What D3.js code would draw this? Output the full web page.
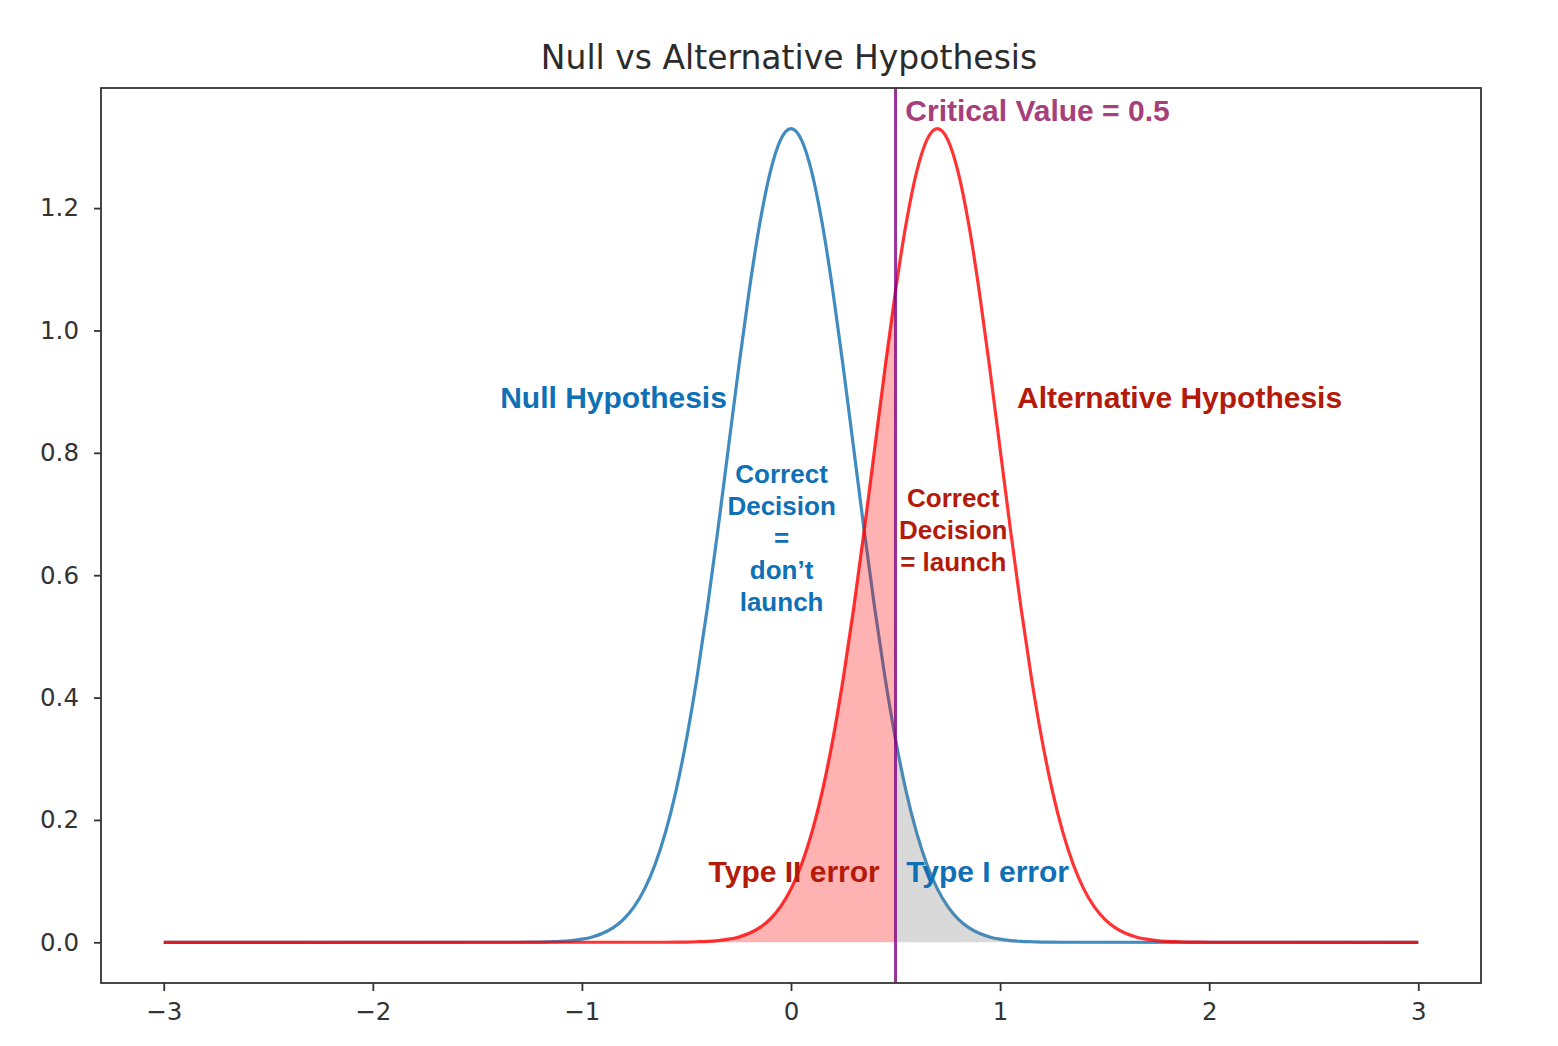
<!DOCTYPE html>
<html><head><meta charset="utf-8">
<script src="https://cdn.jsdelivr.net/npm/d3@7"></script>
<style>body{margin:0;background:#fff}</style>
</head><body>
<svg id="c" width="1558" height="1046"></svg>
<script>
// ---- data ----
const nullX = [-3.0,-1.3,-1.25,-1.2,-1.15,-1.1,-1.05,-1.0,-0.95,-0.9,-0.85,-0.8,-0.75,-0.7,-0.65,-0.6,-0.55,-0.5,-0.45,-0.4,-0.35,-0.3,-0.25,-0.2,-0.15,-0.1,-0.05,
  0.0,0.05,0.1,0.15,0.2,0.25,0.3,0.35,0.4,0.45,0.5,0.55,0.6,0.65,0.7,0.75,0.8,0.85,0.9,0.95,1.0,1.05,1.1,1.15,1.2,1.25,1.3,3.0];
const nullY = [0,0.0001,0.0002,0.0004,0.0009,0.0016,0.0029,0.0051,0.0088,0.0148,0.0240,0.0380,0.0584,0.0874,0.1272,0.1800,0.2476,0.3316,0.4318,0.5467,0.6733,0.8066,0.9397,1.0648,1.1735,1.2579,1.3115,
  1.3298,1.3115,1.2579,1.1735,1.0648,0.9397,0.8066,0.6733,0.5467,0.4318,0.3316,0.2476,0.1800,0.1272,0.0874,0.0584,0.0380,0.0240,0.0148,0.0088,0.0051,0.0029,0.0016,0.0009,0.0004,0.0002,0.0001,0];
const altX = [-3.0,-0.6,-0.55,-0.5,-0.45,-0.4,-0.35,-0.3,-0.25,-0.2,-0.15,-0.1,-0.05,0.0,0.05,0.1,0.15,0.2,0.25,0.3,0.35,0.4,0.45,0.5,0.55,0.6,0.65,
  0.7,0.75,0.8,0.85,0.9,0.95,1.0,1.05,1.1,1.15,1.2,1.25,1.3,1.35,1.4,1.45,1.5,1.55,1.6,1.65,1.7,1.75,1.8,1.85,1.9,1.95,2.0,3.0];
const altY = [0,0.0001,0.0002,0.0004,0.0009,0.0016,0.0029,0.0051,0.0088,0.0148,0.0240,0.0380,0.0584,0.0874,0.1272,0.1800,0.2476,0.3316,0.4318,0.5467,0.6733,0.8066,0.9397,1.0648,1.1735,1.2579,1.3115,
  1.3298,1.3115,1.2579,1.1735,1.0648,0.9397,0.8066,0.6733,0.5467,0.4318,0.3316,0.2476,0.1800,0.1272,0.0874,0.0584,0.0380,0.0240,0.0148,0.0088,0.0051,0.0029,0.0016,0.0009,0.0004,0.0002,0.0001,0];
const criticalValue = 0.5;
const xTicks = [-3,-2,-1,0,1,2,3];
const yTicks = [0.0,0.2,0.4,0.6,0.8,1.0,1.2];
const title = "Null vs Alternative Hypothesis";

// ---- layout ----
const svg = d3.select("#c");
const L = 101, R = 1481, T = 88, B = 983;
const x = d3.scaleLinear().domain([-3.3, 3.3]).range([L, R]);
const y = d3.scaleLinear().domain([-0.0665, 1.3963]).range([B, T]);

const nullPts = nullX.map((v,i)=>[v, nullY[i]]);
const altPts = altX.map((v,i)=>[v, altY[i]]);

const line = d3.line().x(d=>x(d[0])).y(d=>y(d[1])).curve(d3.curveMonotoneX);
const area = d3.area().x(d=>x(d[0])).y0(y(0)).y1(d=>y(d[1])).curve(d3.curveMonotoneX);

const g = svg.append("g");
g.append("path").datum(nullPts).attr("d", line)
  .attr("fill","none").attr("stroke","#1f77b4").attr("stroke-opacity",0.85).attr("stroke-width",3.2);
g.append("path").datum(altPts).attr("d", line)
  .attr("fill","none").attr("stroke","#ff0000").attr("stroke-opacity",0.8).attr("stroke-width",3.2);
// Type II error region
g.append("path").datum(altPts.filter(d=>d[0] <= criticalValue + 1e-9)).attr("d", area)
  .attr("fill","#ff0000").attr("fill-opacity",0.3);
// Type I error region
g.append("path").datum(nullPts.filter(d=>d[0] >= criticalValue - 1e-9)).attr("d", area)
  .attr("fill","#808080").attr("fill-opacity",0.3);
// critical value line
g.append("line").attr("x1",x(criticalValue)).attr("x2",x(criticalValue)).attr("y1",T).attr("y2",B)
  .attr("stroke","#800080").attr("stroke-opacity",0.8).attr("stroke-width",3);

// ---- axes ----
const axColor = "#333";
svg.append("rect").attr("x",L).attr("y",T).attr("width",R-L).attr("height",B-T)
  .attr("fill","none").attr("stroke",axColor).attr("stroke-width",1.8);

const xa = svg.append("g").attr("transform",`translate(0,${B})`)
  .call(d3.axisBottom(x).tickValues(xTicks).tickSize(8).tickPadding(12).tickFormat(d3.format("d")));
const ya = svg.append("g").attr("transform",`translate(${L},0)`)
  .call(d3.axisLeft(y).tickValues(yTicks).tickSize(7).tickPadding(15).tickFormat(d3.format(".1f")));
[xa,ya].forEach(a=>{
  a.select(".domain").remove();
  a.selectAll(".tick line").attr("stroke",axColor).attr("stroke-width",1.8);
  a.selectAll(".tick text").attr("fill","#333").style("font-family","DejaVu Sans").style("font-size","24.5px");
});

svg.append("text").attr("x",(L+R)/2 - 2).attr("y",69).attr("text-anchor","middle")
  .style("font-family","DejaVu Sans").style("font-size","33px").attr("fill","#2b2b2b").text(title);

// ---- annotations ----
const blue = "#1070b5", red = "#b31a0a", crit = "#a6407a";
function label(txt, xv, yv, color, size, anchor){
  svg.append("text").attr("x",x(xv)).attr("y",y(yv)).attr("text-anchor",anchor||"start")
    .attr("fill",color).style("font-family","Liberation Sans, Arial, sans-serif")
    .style("font-weight","bold").style("font-size",size+"px").text(txt);
}
label("Critical Value = 0.5", 0.547, 1.342, crit, 30);
label("Null Hypothesis", -1.391, 0.873, blue, 30);
label("Alternative Hypothesis", 1.081, 0.873, red, 30);
label("Type II error", -0.394, 0.098, red, 30);
label("Type I error", 0.551, 0.098, blue, 30);
const blueLines = ["Correct","Decision","=","don\u2019t","launch"];
blueLines.forEach((t,i)=>label(t, -0.045, 0.751 - i*0.0525, blue, 26, "middle"));
const redLines = ["Correct","Decision","= launch"];
redLines.forEach((t,i)=>label(t, 0.776, 0.712 - i*0.0525, red, 26, "middle"));
</script>
</body></html>
